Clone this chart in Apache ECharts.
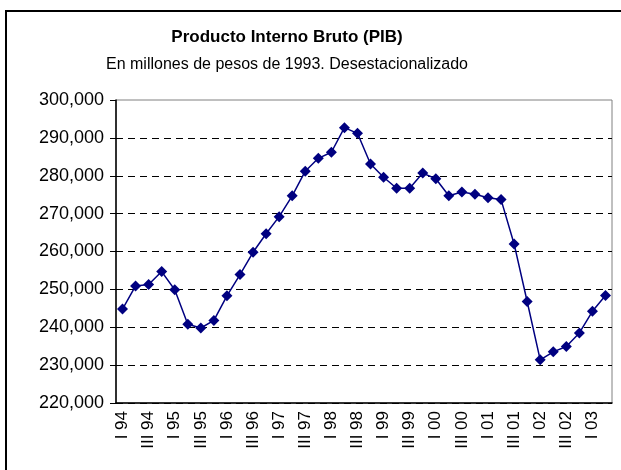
<!DOCTYPE html>
<html>
<head>
<meta charset="utf-8">
<script src="https://cdn.jsdelivr.net/npm/echarts@6/dist/echarts.min.js"></script>
<style>
  html, body { margin: 0; padding: 0; background: #fff; }
  #chart { width: 621px; height: 470px; }
</style>
</head>
<body>
<div id="chart"></div>
<script>
// trimestres I 94 .. II 03
const quarters = [];
const romanos = ['I', 'II', 'III', 'IV'];
for (let y = 94; y <= 103; y++) {
    for (let q = 0; q < 4; q++) {
        quarters.push(romanos[q] + ' ' + String(y % 100).padStart(2, '0'));
    }
}
const categories = quarters.slice(0, 38);

// PIB desestacionalizado, millones de pesos de 1993
const pib = [
    244800, 250900, 251300, 254700, 249900, 240800, 239800, 241800,
    248300, 253900, 259800, 264700, 269200, 274700, 281200, 284600,
    286200, 292700, 291200, 283100, 279600, 276700, 276700, 280700,
    279200, 274700, 275700, 275100, 274200, 273700, 262000, 246800,
    231400, 233500, 234900, 238500, 244200, 248400
];

const yTicks = { min: 220000, max: 300000, interval: 10000 };

const font = 'Arial, "Liberation Sans", sans-serif';

let myChart = echarts.init(document.getElementById('chart'));

myChart.setOption({
    animation: false,
    backgroundColor: '#fff',
    title: {
        text: 'Producto Interno Bruto (PIB)',
        subtext: 'En millones de pesos de 1993. Desestacionalizado',
        left: 282,
        top: 24,
        textAlign: 'center',
        itemGap: 11,
        textStyle: { fontFamily: font, fontSize: 17, fontWeight: 'bold', color: '#000' },
        subtextStyle: { fontFamily: font, fontSize: 16, color: '#000' }
    },
    // marco exterior del grafico
    graphic: [{
        type: 'rect',
        shape: { x: 6, y: 11, width: 700, height: 600 },
        style: { fill: 'none', stroke: '#000', lineWidth: 2 },
        silent: true
    }],
    grid: {
        left: 116, right: 9, top: 100, bottom: 67,
        show: true,
        borderColor: '#808080',
        borderWidth: 1
    },
    xAxis: {
        type: 'category',
        data: categories,
        boundaryGap: true,
        axisLine: { lineStyle: { color: '#000', width: 1.5 } },
        axisTick: { show: false },
        axisLabel: {
            interval: 1,
            rotate: 90,
            margin: 8,
            fontFamily: font,
            fontSize: 17,
            color: '#000'
        },
        splitLine: { show: false }
    },
    yAxis: {
        type: 'value',
        min: yTicks.min,
        max: yTicks.max,
        interval: yTicks.interval,
        axisLine: { show: true, lineStyle: { color: '#000', width: 1.5 } },
        axisTick: { show: true, length: 6, lineStyle: { color: '#000' } },
        axisLabel: {
            margin: 12,
            fontFamily: font,
            fontSize: 18,
            color: '#000',
            formatter: v => v.toLocaleString('en-US')
        },
        splitLine: {
            show: true,
            lineStyle: {
                // ultima linea (300,000) es el borde del area de trazado
                color: ['#000', '#000', '#000', '#000', '#000', '#000', '#000', '#000', 'rgba(0,0,0,0)'],
                type: [7, 5],
                width: 1
            }
        }
    },
    series: [{
        type: 'line',
        data: pib,
        symbol: 'diamond',
        symbolSize: 11,
        showSymbol: true,
        showAllSymbol: true,
        lineStyle: { color: '#000080', width: 1.5 },
        itemStyle: { color: '#000080' }
    }]
});
</script>
</body>
</html>
